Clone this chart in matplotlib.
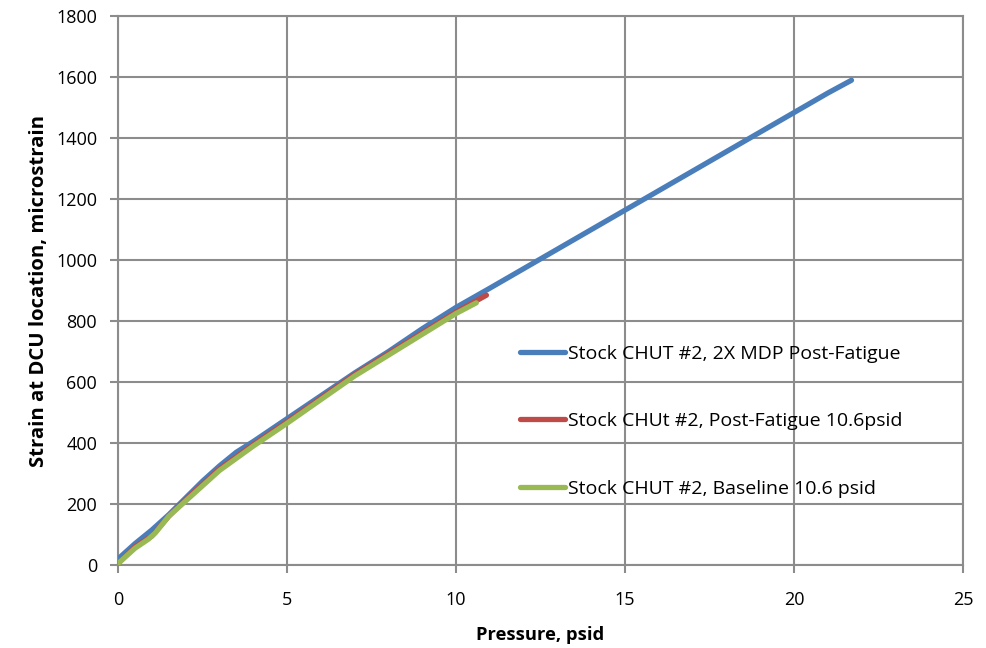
import matplotlib
matplotlib.use("Agg")
import matplotlib.pyplot as plt

# ----------- Data --------------------------------
blue_x = [0, 0.5, 1, 1.5, 2, 2.5, 3, 3.5, 4, 5, 6, 7, 8, 9, 10, 11, 12, 13, 14, 15,
          16, 17, 18, 19, 20, 21, 21.7]
blue_y = [20, 70, 115, 165, 220, 275, 325, 370, 405, 480, 555, 630, 700, 775, 845,
          908, 972, 1036, 1100, 1164, 1228, 1292, 1356, 1420, 1484, 1548, 1590]

red_x = [0, 0.5, 1, 1.5, 2, 3, 4, 5, 7, 10, 10.9]
red_y = [5, 60, 95, 160, 215, 315, 395, 470, 625, 830, 885]

green_x = [0, 0.5, 0.9, 1.1, 1.5, 2, 3, 4, 5, 7, 10, 10.6]
green_y = [5, 55, 85, 105, 160, 210, 310, 390, 465, 620, 825, 860]

labels = ["Stock CHUT #2, 2X MDP Post-Fatigue",
          "Stock CHUt #2, Post-Fatigue 10.6psid",
          "Stock CHUT #2, Baseline 10.6 psid"]

plt.rcParams['font.family'] = ['Open Sans', 'DejaVu Sans']

fig = plt.figure(figsize=(9.86, 6.48), dpi=100)
ax = fig.add_axes([0.1197, 0.128, 0.857, 0.847])

grid_c = '#8c8c8c'
ax.plot(blue_x, blue_y, color='#4a7ebb', lw=3.8, label=labels[0], solid_capstyle='round', zorder=3)
ax.plot(red_x, red_y, color='#be4b48', lw=3.8, label=labels[1], solid_capstyle='round', zorder=4)
ax.plot(green_x, green_y, color='#98b954', lw=3.8, label=labels[2], solid_capstyle='round', zorder=5)

ax.set_xlim(0, 25)
ax.set_ylim(0, 1800)
ax.set_xticks(range(0, 26, 5))
ax.set_yticks(range(0, 1801, 200))
ax.grid(True, color=grid_c, lw=1.5)
ax.set_axisbelow(True)
for s in ax.spines.values():
    s.set_color(grid_c)
    s.set_linewidth(1.5)
ax.tick_params(direction='out', length=6, width=1.5, color=grid_c, labelsize=13)
ax.tick_params(axis='x', pad=13)
ax.tick_params(axis='y', pad=9)

ax.set_xlabel("Pressure, psid", fontsize=13.2, fontweight='bold', labelpad=12)
ax.set_ylabel("Strain at DCU location, microstrain", fontsize=14.6, fontweight='bold', labelpad=5)

leg = ax.legend(loc='center left', bbox_to_anchor=(0.476, 0.262), frameon=False,
                fontsize=14, handlelength=2.3, handletextpad=0.15, labelspacing=2.55,
                borderpad=0, borderaxespad=0)

fig.savefig("out.png", dpi=100)
